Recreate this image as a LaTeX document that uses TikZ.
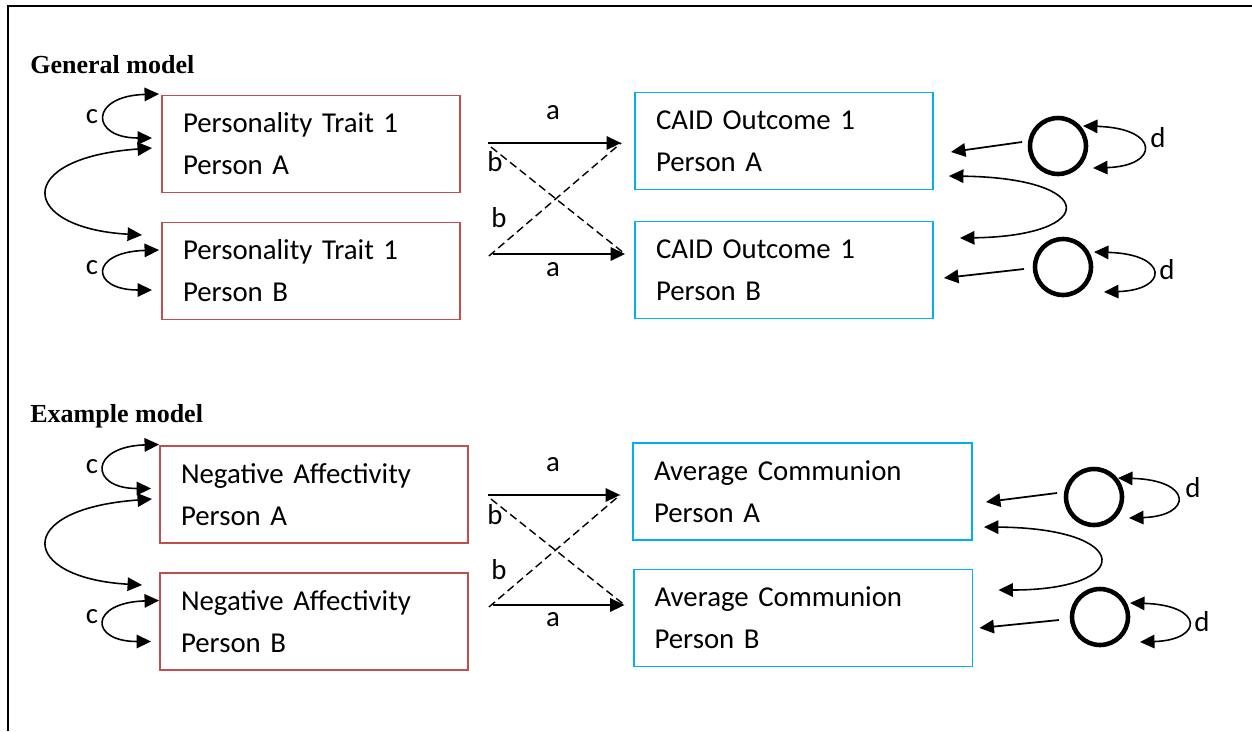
\documentclass[tikz,border=0pt]{standalone}
\usepackage{fontspec}
\setmainfont{Carlito}
\newfontfamily\headfont{Liberation Serif}
\usepackage{tikz}
\usetikzlibrary{arrows.meta,calc}
\definecolor{traitred}{RGB}{192,80,77}
\definecolor{outblue}{RGB}{0,176,240}

\begin{document}
\begin{tikzpicture}[x=0.02cm,y=-0.02cm,
  font=\fontsize{16.4}{23.8}\selectfont,
  trait/.style={draw=traitred,line width=1.1pt,minimum height=1.94cm,inner xsep=0.42cm,align=left},
  outcome/.style={trait,draw=outblue},
  latent/.style={circle,draw,line width=2.6pt,minimum size=1.12cm,inner sep=0pt},
  arrow/.style={-{Triangle[length=2.9mm,width=2.7mm]},line width=1pt},
  twoway/.style={{Triangle[length=2.9mm,width=2.7mm]}-{Triangle[length=2.9mm,width=2.7mm]},line width=0.9pt},
  dashline/.style={dash pattern=on 4.5pt off 2.5pt,line width=0.8pt},
  lbl/.style={inner sep=0pt},
  heading/.style={anchor=base west,inner sep=0pt,font=\headfont\fontsize{14.8}{17}\selectfont\bfseries}
]
\useasboundingbox (0,0) rectangle (1252,731);
\draw[line width=1.1pt] (1252,6) -- (8,6) -- (8,731);

% general model
\node[heading] (gen) at (30,73) {General model};
\node[trait,text width=5.12cm] (tA) at (311,144) {Personality Trait 1\\Person A};
\node[trait,text width=5.12cm] (tB) at (311,271) {Personality Trait 1\\Person B};
\node[outcome,text width=5.12cm] (oA) at (784,141) {CAID Outcome 1\\Person A};
\node[outcome,text width=5.12cm] (oB) at (784,270) {CAID Outcome 1\\Person B};
\node[latent] (uA) at (1058,146) {};
\node[latent] (uB) at (1063,267) {};

\coordinate (s1) at ($(tA.east)+(27,-1)$);
\coordinate (e1) at ($(oA.west)+(-13,2)$);
\coordinate (s2) at ($(tB.east)+(32,-17)$);
\coordinate (e2) at ($(oB.west)+(-9,-16)$);
\draw[arrow] (s1) -- (e1);
\draw[arrow] (s2) -- (e2);
\draw[dashline] ($(s1)+(3,4)$) -- (e2);
\draw[dashline] ($(s2)+(-4,2)$) -- (e1);
\node[lbl] (a1) at (553,113) {a};
\node[lbl] (a2) at (553,270) {a};
\node[lbl] (b1) at (495,162) {b};
\node[lbl] (b2) at (499,218) {b};

\draw[twoway] ($(tA.west)+(-2,-50)$) .. controls +(-70,2) and +(-62,0) .. ($(tA.west)+(-9,-6)$);
\draw[twoway] ($(tA.west)+(-9,4)$) .. controls +(-140,10) and +(-123,-7) .. ($(tB.west)+(-19,-36)$);
\draw[twoway] ($(tB.west)+(-2,-21)$) .. controls +(-70,2) and +(-62,0) .. ($(tB.west)+(-9,19)$);
\node[lbl] (c1) at (92,117) {c};
\node[lbl] (c2) at (92,268) {c};

\draw[arrow] ($(uA)+(-36,-4)$) -- ($(oA.east)+(17,11)$);
\draw[arrow] ($(uB)+(-39,2)$) -- ($(oB.east)+(10,8)$);
\draw[twoway] ($(oA.east)+(15,35)$) .. controls +(150,2) and +(139,-2) .. ($(oB.east)+(26,-32)$);
\draw[twoway] ($(uA)+(25,-20)$) .. controls +(77,2) and +(67,-2) .. ($(uA)+(35,22)$);
\draw[twoway] ($(uB)+(31,-15)$) .. controls +(75,2) and +(65,-2) .. ($(uB)+(41,25)$);
\node[lbl] (d1) at (1158,138) {d};
\node[lbl] (d2) at (1167,270) {d};

% example model
\node[heading] (ex) at (30,422) {Example model};
\node[trait,text width=5.32cm] (nA) at (314,494.5) {Negative Affectivity\\Person A};
\node[trait,text width=5.32cm] (nB) at (314,621.5) {Negative Affectivity\\Person B};
\node[outcome,text width=5.94cm] (cA) at (802.5,491.5) {Average Communion\\Person A};
\node[outcome,text width=5.94cm] (cB) at (803,618) {Average Communion\\Person B};
\node[latent] (vA) at (1094,497) {};
\node[latent] (vB) at (1100,617) {};

\coordinate (s3) at ($(nA.east)+(19,0.5)$);
\coordinate (e3) at ($(cA.west)+(-12,3.5)$);
\coordinate (s4) at ($(nB.east)+(24,-16.5)$);
\coordinate (e4) at ($(cB.west)+(-8,-13)$);
\draw[arrow] (s3) -- (e3);
\draw[arrow] (s4) -- (e4);
\draw[dashline] ($(s3)+(3,4)$) -- (e4);
\draw[dashline] ($(s4)+(-4,2)$) -- (e3);
\node[lbl] (a3) at (553,465) {a};
\node[lbl] (a4) at (553,620) {a};
\node[lbl] (b3) at (495,515) {b};
\node[lbl] (b4) at (499,570) {b};

\draw[twoway] ($(nA.west)+(0,-50)$) .. controls +(-70,2) and +(-62,0) .. ($(nA.west)+(-8,-6)$);
\draw[twoway] ($(nA.west)+(-7,4.5)$) .. controls +(-140,10) and +(-123,-7) .. ($(nB.west)+(-17,-36.5)$);
\draw[twoway] ($(nB.west)+(0,-21)$) .. controls +(-70,2) and +(-62,0) .. ($(nB.west)+(-8,20)$);
\node[lbl] (c3) at (92,467) {c};
\node[lbl] (c4) at (92,617) {c};

\draw[arrow] ($(vA)+(-37,-4)$) -- ($(cA.east)+(13,10.5)$);
\draw[arrow] ($(vB)+(-41,3)$) -- ($(cB.east)+(6,10)$);
\draw[twoway] ($(cA.east)+(11,35.5)$) .. controls +(150,1) and +(136,0) .. ($(cB.east)+(25,-28)$);
\draw[twoway] ($(vA)+(24,-19)$) .. controls +(75,2) and +(64,-2) .. ($(vA)+(35,21)$);
\draw[twoway] ($(vB)+(30,-14)$) .. controls +(74,2) and +(64,-2) .. ($(vB)+(40,25)$);
\node[lbl] (d3) at (1193,488) {d};
\node[lbl] (d4) at (1202,622) {d};
\end{tikzpicture}
\end{document}
